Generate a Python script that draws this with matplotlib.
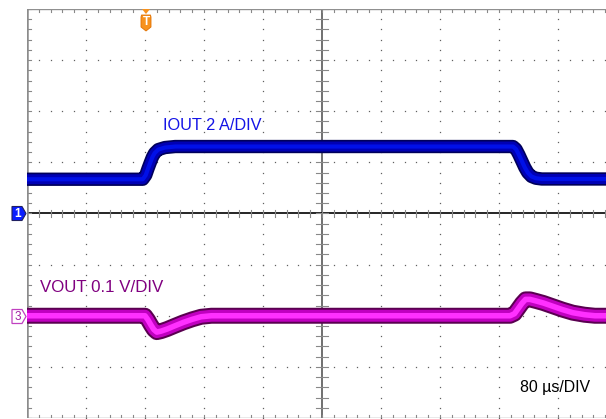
import matplotlib.pyplot as plt
import numpy as np
from matplotlib.patches import Polygon

plt.rcParams['font.family'] = ['Liberation Sans', 'DejaVu Sans']

# tiempo en microsegundos (80 us/div, 10 divisiones)
t_iout = [0, 157, 161, 164, 167, 170, 173, 178, 187, 201, 659, 663, 667, 671, 675, 679, 684, 690, 698, 800]
iout = [1.34, 1.34, 1.5, 1.75, 1.98, 2.2, 2.36, 2.5, 2.58, 2.62, 2.62, 2.52, 2.3, 2.05, 1.8, 1.6, 1.45, 1.38, 1.35, 1.35]

# desviacion de VOUT en mV: caida al subir la carga y sobrepico al bajarla
t_vout = [0, 160, 164, 168, 172, 176, 182, 190, 200, 212, 224, 236, 250,
          655, 661, 666, 671, 676, 682, 690, 700, 712, 726, 740, 756, 770, 800]
vout = [0, 0, -8, -18, -27, -32, -30, -26, -20, -13, -7, -2, 0,
        0, 4, 14, 24, 32, 32, 29, 25, 19, 12, 6, 2, 0, 0]

escala_i = 2.0     # A/div
escala_v = 100.0   # mV/div
offset_ch1 = 0.0
offset_ch3 = -2.0

fig = plt.figure(figsize=(6.06, 4.19), dpi=100)
ax = fig.add_axes([27 / 606, 1 / 419, 590 / 606, 409 / 419])
ax.set_xlim(0, 800)
ax.set_ylim(-4, 4)
ax.axis('off')

# reticula punteada
gris = '#606060'
xs_min = np.arange(0, 801, 16)
ys_min = np.arange(-4, 4.01, 0.2)
for k in range(1, 10):
    if k == 5:
        continue
    ax.plot(np.full_like(ys_min, 80 * k), ys_min, ls='none', marker='s', ms=0.9, color=gris, mew=0)
for k in range(-3, 4):
    if k == 0:
        continue
    ax.plot(xs_min, np.full_like(xs_min, k, dtype=float), ls='none', marker='s', ms=0.9, color=gris, mew=0)

# ejes centrales con marcas
ax.axvline(400, color='#707070', lw=1.4, zorder=2)
ax.axhline(0, color='black', lw=1.2, zorder=2)
for x in xs_min:
    ax.plot([x, x], [-0.07, 0.07], color='#888888', lw=0.8, zorder=2)
    ax.plot([x, x], [4, 3.94], color='#888888', lw=0.8, zorder=2)
    ax.plot([x, x], [-4, -3.94], color='#888888', lw=0.8, zorder=2)
for y in ys_min:
    ax.plot([392, 408], [y, y], color='#888888', lw=0.8, zorder=2)
    ax.plot([0, 5], [y, y], color='#888888', lw=0.8, zorder=2)

# bordes
ax.plot([0, 800], [4, 4], color='#909090', lw=1.0, zorder=2)
ax.plot([0, 800], [-4, -4], color='#909090', lw=1.0, zorder=2)
ax.axvline(0, color='#8c8c8c', lw=1.8, zorder=2)

# trazas
y_i = offset_ch1 + np.array(iout) / escala_i
ax.plot(t_iout, y_i, color='#00005a', lw=9.6, solid_capstyle='butt', zorder=3)
ax.plot(t_iout, y_i, color='#0000b4', lw=7.2, solid_capstyle='butt', zorder=3)
ax.plot(t_iout, y_i, color='#0010e8', lw=3.0, solid_capstyle='butt', zorder=3)

y_v = offset_ch3 + np.array(vout) / escala_v
ax.plot(t_vout, y_v, color='#5a0050', lw=11.5, solid_capstyle='butt', zorder=3)
ax.plot(t_vout, y_v, color='#c000c0', lw=8.6, solid_capstyle='butt', zorder=3)
ax.plot(t_vout, y_v, color='#ff30ff', lw=4.0, solid_capstyle='butt', zorder=3)

# textos
ax.text(184, 1.72, 'IOUT 2 A/DIV', color='#1414e6', fontsize=11.8, va='center', ha='left', zorder=5)
ax.text(17, -1.44, 'VOUT 0.1 V/DIV', color='#800080', fontsize=12.2, va='center', ha='left', zorder=5)
ax.text(668, -3.4, '80 \u00b5s/DIV', color='black', fontsize=11.4, va='center', ha='left', zorder=5)

# marcadores de canal y disparo
ov = fig.add_axes([0, 0, 1, 1], zorder=10)
ov.set_xlim(0, 606)
ov.set_ylim(419, 0)
ov.axis('off')

ov.add_patch(Polygon([[12, 206.5], [22, 206.5], [26, 213.5], [22, 220.5], [12, 220.5]],
                     closed=True, fc='#0a1eff', ec='#202060', lw=0.8))
ov.text(17.5, 213.5, '1', color='white', fontsize=8.5, ha='center', va='center', fontweight='bold')
ov.add_patch(Polygon([[12, 309.5], [22, 309.5], [26, 316.5], [22, 323.5], [12, 323.5]],
                     closed=True, fc='white', ec='#c040c0', lw=0.9))
ov.text(17.5, 316.5, '3', color='#a020a0', fontsize=8.5, ha='center', va='center')

naranja = '#f7921e'
ov.add_patch(Polygon([[142, 9], [150, 9], [146, 14]], closed=True, fc=naranja, ec='none'))
ov.add_patch(Polygon([[141.5, 15], [150.5, 15], [151, 17], [151, 27], [146, 31], [141, 27], [141, 17]],
                     closed=True, fc=naranja, ec='#e07000', lw=0.6))
ov.text(146, 22, 'T', color='white', fontsize=8.5, ha='center', va='center', fontweight='bold')

fig.savefig('out.png', dpi=100)
